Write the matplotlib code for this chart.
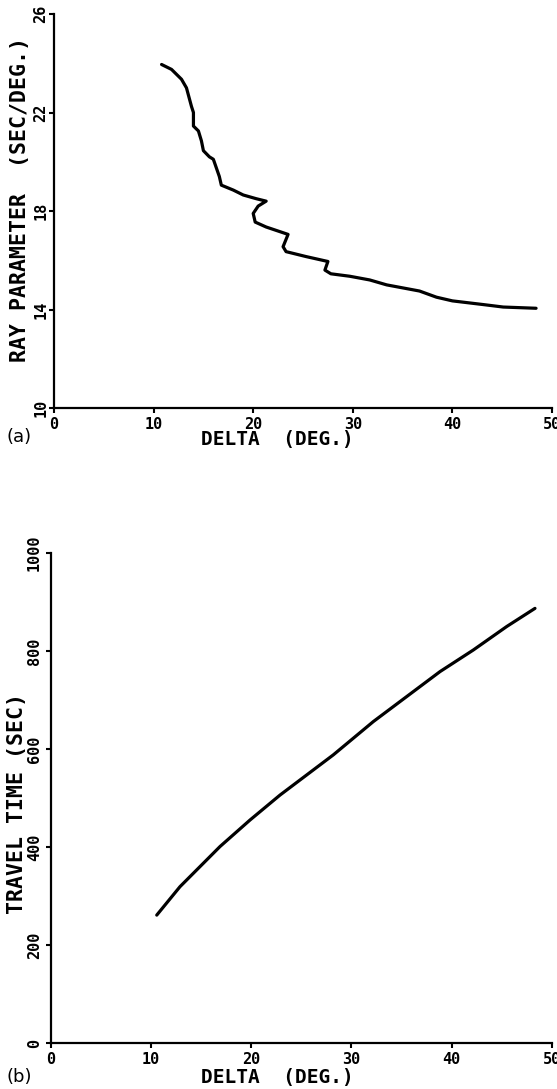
import matplotlib
matplotlib.use("Agg")
import matplotlib.pyplot as plt

# (a) ray parameter vs distance
delta_a = [10.8, 11.8, 12.8, 13.3, 13.8, 14.0, 14.0, 14.5, 14.8, 15.0, 15.6, 16.0,
           16.6, 16.8, 18.0, 19.0, 20.3, 21.3, 20.5, 20.0, 20.2, 21.3, 23.5, 23.0,
           23.3, 25.3, 27.5, 27.2, 27.8, 29.7, 31.7, 33.4, 36.7, 38.4, 40.0, 43.1,
           45.1, 48.4]
ray_p = [23.95, 23.75, 23.35, 23.0, 22.25, 22.0, 21.45, 21.25, 20.85, 20.45, 20.2, 20.1,
         19.4, 19.05, 18.85, 18.65, 18.5, 18.4, 18.2, 17.9, 17.55, 17.35, 17.05, 16.55,
         16.35, 16.15, 15.95, 15.6, 15.45, 15.35, 15.2, 15.0, 14.75, 14.5, 14.35, 14.2,
         14.1, 14.05]

# (b) travel time vs distance
delta_b = [10.56, 12.88, 14.88, 16.88, 19.87, 22.87, 25.53, 28.19, 32.19, 35.52,
           38.85, 42.17, 45.51, 48.33]
ttime = [261, 319, 360, 401, 455, 506, 547, 588, 656, 707, 758, 802, 850, 887]

xticks = [0, 10, 20, 30, 40, 50]
yticks_a = [10, 14, 18, 22, 26]
yticks_b = [0, 200, 400, 600, 800, 1000]

FONT = "DejaVu Sans Mono"
W, H = 557, 1089

fig = plt.figure(figsize=(W / 100, H / 100), dpi=100)
ax1 = fig.add_axes([54 / W, 1 - 408 / H, 498 / W, 394 / H])
ax2 = fig.add_axes([51 / W, 1 - 1043 / H, 500.7 / W, 490 / H])


def style(ax, ypad):
    for s in ["top", "right"]:
        ax.spines[s].set_visible(False)
    for s in ["left", "bottom"]:
        ax.spines[s].set_linewidth(1.6)
    ax.tick_params(direction="out", length=3.5, width=1.5, color="black")
    ax.tick_params(axis="x", pad=3)
    ax.tick_params(axis="y", pad=ypad, labelrotation=90)
    for lab in ax.get_xticklabels() + ax.get_yticklabels():
        lab.set_fontfamily(FONT)
        lab.set_fontweight("bold")
        lab.set_fontsize(11)
    for lab in ax.get_yticklabels():
        lab.set_va("center")


ax1.plot(delta_a, ray_p, color="black", lw=2.3, solid_capstyle="round")
ax1.set_xlim(0, 50)
ax1.set_ylim(10, 26)
ax1.set_xticks(xticks)
ax1.set_yticks(yticks_a)
style(ax1, 0.5)

ax2.plot(delta_b, ttime, color="black", lw=2.3, solid_capstyle="round")
ax2.set_xlim(0, 50)
ax2.set_ylim(0, 1000)
ax2.set_xticks(xticks)
ax2.set_yticks(yticks_b)
style(ax2, 3)

lab_kw = dict(family=FONT, fontweight="bold", ha="center", va="center")
fig.text(277 / W, 1 - 440 / H, "DELTA  (DEG.)", fontsize=14, **lab_kw)
fig.text(277 / W, 1 - 1077 / H, "DELTA  (DEG.)", fontsize=14, **lab_kw)
fig.text(20 / W, 1 - 199 / H, "RAY PARAMETER  (SEC/DEG.)", fontsize=15.5, rotation=90, **lab_kw)
fig.text(17 / W, 1 - 804 / H, "TRAVEL TIME (SEC)", fontsize=15.5, rotation=90, **lab_kw)
fig.text(19 / W, 1 - 437 / H, "(a)", fontsize=13, family="DejaVu Sans", ha="center", va="center")
fig.text(19 / W, 1 - 1077 / H, "(b)", fontsize=13, family="DejaVu Sans", ha="center", va="center")

fig.savefig("out.png", dpi=100)
